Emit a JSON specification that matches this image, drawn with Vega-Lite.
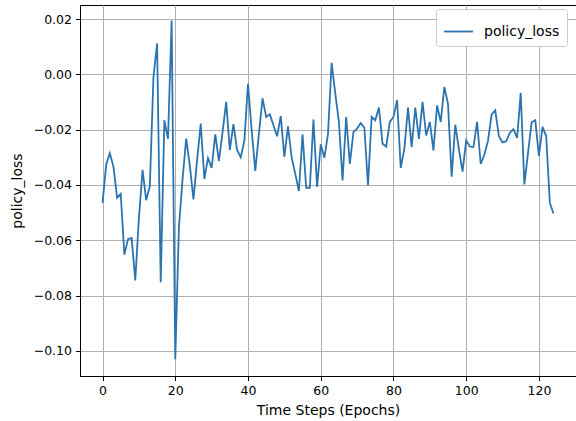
{
  "$schema": "https://vega.github.io/schema/vega-lite/v6.json",
  "autosize": "none",
  "width": 496,
  "height": 371,
  "padding": {"left": 80, "top": 5, "right": 0, "bottom": 45},
  "background": "white",
  "config": {
    "font": "DejaVu Sans",
    "view": {"stroke": "black", "strokeWidth": 1},
    "axis": {
      "domainColor": "black",
      "tickColor": "black",
      "tickSize": 4.5,
      "labelFontSize": 12.5,
      "labelColor": "black",
      "titleFontSize": 14,
      "titleFontWeight": "normal",
      "titleColor": "black",
      "gridColor": "#b0b0b0",
      "gridWidth": 1,
      "labelPadding": 4
    }
  },
  "data": {
    "values": [
      {"epoch": 0, "policy_loss": -0.0465, "series": "policy_loss"},
      {"epoch": 1, "policy_loss": -0.0327, "series": "policy_loss"},
      {"epoch": 2, "policy_loss": -0.0285, "series": "policy_loss"},
      {"epoch": 3, "policy_loss": -0.0334, "series": "policy_loss"},
      {"epoch": 4, "policy_loss": -0.0446, "series": "policy_loss"},
      {"epoch": 5, "policy_loss": -0.0432, "series": "policy_loss"},
      {"epoch": 6, "policy_loss": -0.0652, "series": "policy_loss"},
      {"epoch": 7, "policy_loss": -0.0596, "series": "policy_loss"},
      {"epoch": 8, "policy_loss": -0.0592, "series": "policy_loss"},
      {"epoch": 9, "policy_loss": -0.0745, "series": "policy_loss"},
      {"epoch": 10, "policy_loss": -0.052, "series": "policy_loss"},
      {"epoch": 11, "policy_loss": -0.0345, "series": "policy_loss"},
      {"epoch": 12, "policy_loss": -0.0455, "series": "policy_loss"},
      {"epoch": 13, "policy_loss": -0.0405, "series": "policy_loss"},
      {"epoch": 14, "policy_loss": -0.001, "series": "policy_loss"},
      {"epoch": 15, "policy_loss": 0.0112, "series": "policy_loss"},
      {"epoch": 16, "policy_loss": -0.0752, "series": "policy_loss"},
      {"epoch": 17, "policy_loss": -0.0166, "series": "policy_loss"},
      {"epoch": 18, "policy_loss": -0.0233, "series": "policy_loss"},
      {"epoch": 19, "policy_loss": 0.0195, "series": "policy_loss"},
      {"epoch": 20, "policy_loss": -0.103, "series": "policy_loss"},
      {"epoch": 21, "policy_loss": -0.0554, "series": "policy_loss"},
      {"epoch": 22, "policy_loss": -0.038, "series": "policy_loss"},
      {"epoch": 23, "policy_loss": -0.0232, "series": "policy_loss"},
      {"epoch": 24, "policy_loss": -0.033, "series": "policy_loss"},
      {"epoch": 25, "policy_loss": -0.0452, "series": "policy_loss"},
      {"epoch": 26, "policy_loss": -0.031, "series": "policy_loss"},
      {"epoch": 27, "policy_loss": -0.0178, "series": "policy_loss"},
      {"epoch": 28, "policy_loss": -0.0378, "series": "policy_loss"},
      {"epoch": 29, "policy_loss": -0.0303, "series": "policy_loss"},
      {"epoch": 30, "policy_loss": -0.0338, "series": "policy_loss"},
      {"epoch": 31, "policy_loss": -0.0217, "series": "policy_loss"},
      {"epoch": 32, "policy_loss": -0.0314, "series": "policy_loss"},
      {"epoch": 33, "policy_loss": -0.021, "series": "policy_loss"},
      {"epoch": 34, "policy_loss": -0.0099, "series": "policy_loss"},
      {"epoch": 35, "policy_loss": -0.0273, "series": "policy_loss"},
      {"epoch": 36, "policy_loss": -0.018, "series": "policy_loss"},
      {"epoch": 37, "policy_loss": -0.0273, "series": "policy_loss"},
      {"epoch": 38, "policy_loss": -0.03, "series": "policy_loss"},
      {"epoch": 39, "policy_loss": -0.024, "series": "policy_loss"},
      {"epoch": 40, "policy_loss": -0.0034, "series": "policy_loss"},
      {"epoch": 41, "policy_loss": -0.02, "series": "policy_loss"},
      {"epoch": 42, "policy_loss": -0.0349, "series": "policy_loss"},
      {"epoch": 43, "policy_loss": -0.0215, "series": "policy_loss"},
      {"epoch": 44, "policy_loss": -0.0087, "series": "policy_loss"},
      {"epoch": 45, "policy_loss": -0.0154, "series": "policy_loss"},
      {"epoch": 46, "policy_loss": -0.0144, "series": "policy_loss"},
      {"epoch": 47, "policy_loss": -0.0184, "series": "policy_loss"},
      {"epoch": 48, "policy_loss": -0.0224, "series": "policy_loss"},
      {"epoch": 49, "policy_loss": -0.0151, "series": "policy_loss"},
      {"epoch": 50, "policy_loss": -0.0298, "series": "policy_loss"},
      {"epoch": 51, "policy_loss": -0.0188, "series": "policy_loss"},
      {"epoch": 52, "policy_loss": -0.03, "series": "policy_loss"},
      {"epoch": 53, "policy_loss": -0.036, "series": "policy_loss"},
      {"epoch": 54, "policy_loss": -0.0422, "series": "policy_loss"},
      {"epoch": 55, "policy_loss": -0.0217, "series": "policy_loss"},
      {"epoch": 56, "policy_loss": -0.041, "series": "policy_loss"},
      {"epoch": 57, "policy_loss": -0.041, "series": "policy_loss"},
      {"epoch": 58, "policy_loss": -0.0163, "series": "policy_loss"},
      {"epoch": 59, "policy_loss": -0.0407, "series": "policy_loss"},
      {"epoch": 60, "policy_loss": -0.0253, "series": "policy_loss"},
      {"epoch": 61, "policy_loss": -0.0302, "series": "policy_loss"},
      {"epoch": 62, "policy_loss": -0.0215, "series": "policy_loss"},
      {"epoch": 63, "policy_loss": 0.0042, "series": "policy_loss"},
      {"epoch": 64, "policy_loss": -0.0069, "series": "policy_loss"},
      {"epoch": 65, "policy_loss": -0.0172, "series": "policy_loss"},
      {"epoch": 66, "policy_loss": -0.0384, "series": "policy_loss"},
      {"epoch": 67, "policy_loss": -0.0154, "series": "policy_loss"},
      {"epoch": 68, "policy_loss": -0.0324, "series": "policy_loss"},
      {"epoch": 69, "policy_loss": -0.0208, "series": "policy_loss"},
      {"epoch": 70, "policy_loss": -0.0196, "series": "policy_loss"},
      {"epoch": 71, "policy_loss": -0.0176, "series": "policy_loss"},
      {"epoch": 72, "policy_loss": -0.0193, "series": "policy_loss"},
      {"epoch": 73, "policy_loss": -0.0402, "series": "policy_loss"},
      {"epoch": 74, "policy_loss": -0.0154, "series": "policy_loss"},
      {"epoch": 75, "policy_loss": -0.0166, "series": "policy_loss"},
      {"epoch": 76, "policy_loss": -0.012, "series": "policy_loss"},
      {"epoch": 77, "policy_loss": -0.0251, "series": "policy_loss"},
      {"epoch": 78, "policy_loss": -0.0261, "series": "policy_loss"},
      {"epoch": 79, "policy_loss": -0.0172, "series": "policy_loss"},
      {"epoch": 80, "policy_loss": -0.0154, "series": "policy_loss"},
      {"epoch": 81, "policy_loss": -0.0093, "series": "policy_loss"},
      {"epoch": 82, "policy_loss": -0.0338, "series": "policy_loss"},
      {"epoch": 83, "policy_loss": -0.0269, "series": "policy_loss"},
      {"epoch": 84, "policy_loss": -0.012, "series": "policy_loss"},
      {"epoch": 85, "policy_loss": -0.0263, "series": "policy_loss"},
      {"epoch": 86, "policy_loss": -0.012, "series": "policy_loss"},
      {"epoch": 87, "policy_loss": -0.0233, "series": "policy_loss"},
      {"epoch": 88, "policy_loss": -0.0099, "series": "policy_loss"},
      {"epoch": 89, "policy_loss": -0.0221, "series": "policy_loss"},
      {"epoch": 90, "policy_loss": -0.0172, "series": "policy_loss"},
      {"epoch": 91, "policy_loss": -0.0275, "series": "policy_loss"},
      {"epoch": 92, "policy_loss": -0.0112, "series": "policy_loss"},
      {"epoch": 93, "policy_loss": -0.0172, "series": "policy_loss"},
      {"epoch": 94, "policy_loss": -0.0045, "series": "policy_loss"},
      {"epoch": 95, "policy_loss": -0.0107, "series": "policy_loss"},
      {"epoch": 96, "policy_loss": -0.037, "series": "policy_loss"},
      {"epoch": 97, "policy_loss": -0.0182, "series": "policy_loss"},
      {"epoch": 98, "policy_loss": -0.027, "series": "policy_loss"},
      {"epoch": 99, "policy_loss": -0.0352, "series": "policy_loss"},
      {"epoch": 100, "policy_loss": -0.0239, "series": "policy_loss"},
      {"epoch": 101, "policy_loss": -0.0261, "series": "policy_loss"},
      {"epoch": 102, "policy_loss": -0.0263, "series": "policy_loss"},
      {"epoch": 103, "policy_loss": -0.0172, "series": "policy_loss"},
      {"epoch": 104, "policy_loss": -0.0324, "series": "policy_loss"},
      {"epoch": 105, "policy_loss": -0.029, "series": "policy_loss"},
      {"epoch": 106, "policy_loss": -0.024, "series": "policy_loss"},
      {"epoch": 107, "policy_loss": -0.0145, "series": "policy_loss"},
      {"epoch": 108, "policy_loss": -0.013, "series": "policy_loss"},
      {"epoch": 109, "policy_loss": -0.0224, "series": "policy_loss"},
      {"epoch": 110, "policy_loss": -0.0246, "series": "policy_loss"},
      {"epoch": 111, "policy_loss": -0.0242, "series": "policy_loss"},
      {"epoch": 112, "policy_loss": -0.0212, "series": "policy_loss"},
      {"epoch": 113, "policy_loss": -0.0198, "series": "policy_loss"},
      {"epoch": 114, "policy_loss": -0.023, "series": "policy_loss"},
      {"epoch": 115, "policy_loss": -0.0067, "series": "policy_loss"},
      {"epoch": 116, "policy_loss": -0.0398, "series": "policy_loss"},
      {"epoch": 117, "policy_loss": -0.0285, "series": "policy_loss"},
      {"epoch": 118, "policy_loss": -0.0173, "series": "policy_loss"},
      {"epoch": 119, "policy_loss": -0.0166, "series": "policy_loss"},
      {"epoch": 120, "policy_loss": -0.0295, "series": "policy_loss"},
      {"epoch": 121, "policy_loss": -0.019, "series": "policy_loss"},
      {"epoch": 122, "policy_loss": -0.0224, "series": "policy_loss"},
      {"epoch": 123, "policy_loss": -0.0464, "series": "policy_loss"},
      {"epoch": 124, "policy_loss": -0.0503, "series": "policy_loss"}
    ]
  },
  "mark": {"type": "line", "strokeWidth": 1.8, "clip": true},
  "encoding": {
    "x": {
      "field": "epoch",
      "type": "quantitative",
      "scale": {"domain": [-6.2, 130.2], "nice": false, "zero": false},
      "axis": {"values": [0, 20, 40, 60, 80, 100, 120], "title": "Time Steps (Epochs)", "titlePadding": 6}
    },
    "y": {
      "field": "policy_loss",
      "type": "quantitative",
      "scale": {"domain": [-0.1091, 0.0251], "nice": false, "zero": false},
      "axis": {"values": [0.02, 0, -0.02, -0.04, -0.06, -0.08, -0.1], "format": ".2f", "title": "policy_loss", "titlePadding": 9}
    },
    "color": {
      "field": "series",
      "type": "nominal",
      "scale": {"range": ["#2c74b0"]},
      "legend": {
        "title": null,
        "orient": "none",
        "legendX": 356,
        "legendY": 4,
        "symbolType": "stroke",
        "symbolSize": 841,
        "symbolStrokeWidth": 1.8,
        "labelFontSize": 14,
        "labelColor": "black",
        "fillColor": "white",
        "strokeColor": "#cccccc",
        "cornerRadius": 3,
        "padding": 7,
        "labelOffset": 10
      }
    }
  }
}
